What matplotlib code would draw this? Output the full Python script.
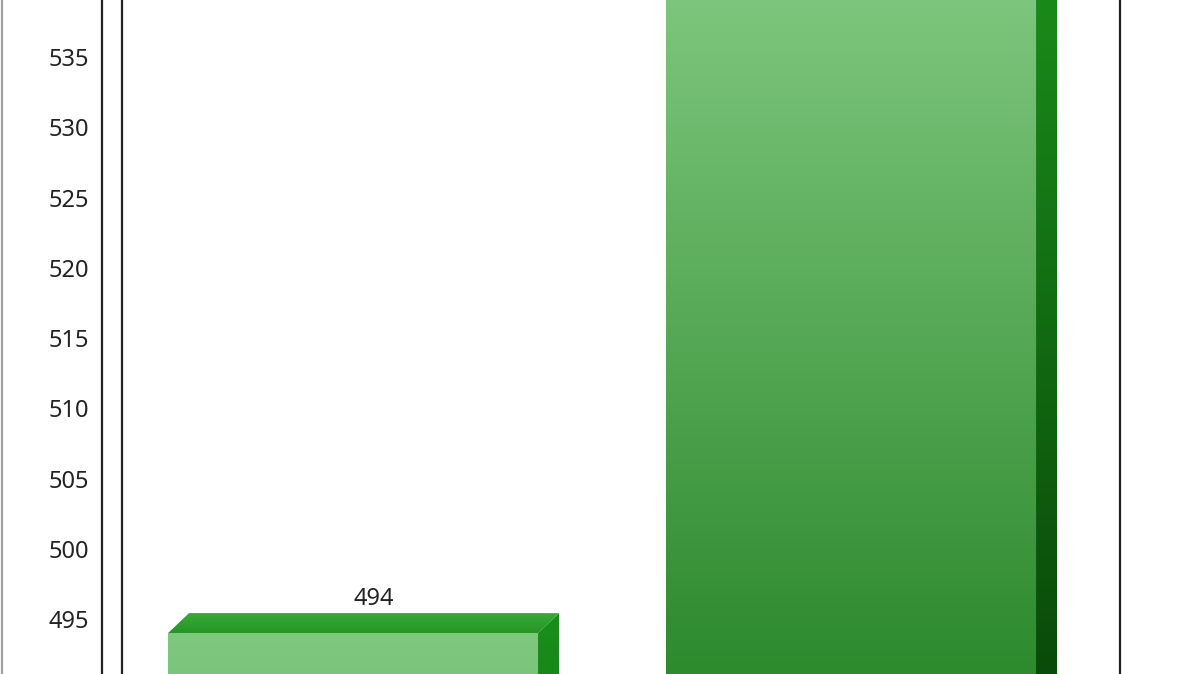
import matplotlib
matplotlib.use("Agg")
import matplotlib.pyplot as plt
import numpy as np
from matplotlib.colors import LinearSegmentedColormap
from matplotlib.patches import Polygon, Rectangle
from matplotlib.lines import Line2D

# data
categories = ["A", "B"]
values = [494, 541]
yticks = [495, 500, 505, 510, 515, 520, 525, 530, 535]

plt.rcParams['font.family'] = ['Noto Sans', 'DejaVu Sans']

fig = plt.figure(figsize=(12, 6.74), dpi=100)
ax = fig.add_axes([122 / 1200, 0, 998 / 1200, 1])

ymin, ymax = 491.09, 539.06
xmin, xmax = -0.4639, 1.540
width = 0.743
dx = 21 / 498
dy = 20 / 14.05
base = 470
span = 50

front_cm = LinearSegmentedColormap.from_list("front", ["#2d8a2d", "#80c880"])
side_cm = LinearSegmentedColormap.from_list("side", ["#0a4a0a", "#1a8e1a"])
top_cm = LinearSegmentedColormap.from_list("top", ["#259525", "#3aac3a"])
grad = np.linspace(0, 1, 256).reshape(-1, 1)

x = np.arange(len(values))
for xi, v in zip(x, values):
    x0, x1 = xi - width / 2, xi + width / 2
    # front face
    rect = Rectangle((x0, base), width, v - base, facecolor="none", edgecolor="none")
    ax.add_patch(rect)
    im = ax.imshow(grad, cmap=front_cm, origin="lower", aspect="auto",
                   extent=(x0, x1, v - span, v), zorder=2)
    im.set_clip_path(rect)
    ax.add_patch(Rectangle((x0, base), width, v - base - span, facecolor="#2d8a2d",
                           edgecolor="none", zorder=2))
    # side face
    side = Polygon([(x1, base), (x1 + dx, base + dy), (x1 + dx, v + dy), (x1, v)],
                   closed=True, facecolor="none", edgecolor="none")
    ax.add_patch(side)
    im = ax.imshow(grad, cmap=side_cm, origin="lower", aspect="auto",
                   extent=(x1, x1 + dx, v - span, v + dy), zorder=2)
    im.set_clip_path(side)
    # top face
    top = Polygon([(x0, v), (x0 + dx, v + dy), (x1 + dx, v + dy), (x1, v)],
                  closed=True, facecolor="none", edgecolor="none")
    ax.add_patch(top)
    im = ax.imshow(grad, cmap=top_cm, origin="lower", aspect="auto",
                   extent=(x0, x1 + dx, v, v + dy), zorder=2)
    im.set_clip_path(top)
    # value label (only the ones inside the visible range)
    if v + dy + 2 < ymax:
        ax.text(xi + dx, v + dy + 0.55, str(v), ha="center", va="baseline",
                fontsize=17, color="#222222", zorder=3)

ax.set_xlim(xmin, xmax)
ax.set_ylim(ymin, ymax)
ax.set_xticks([])
ax.set_yticks(yticks)
ax.tick_params(axis="y", length=0, pad=24, labelsize=17, labelcolor="#222222")
for s in ["top", "bottom"]:
    ax.spines[s].set_visible(False)
for s in ["left", "right"]:
    ax.spines[s].set_linewidth(1.6)
    ax.spines[s].set_color("#222222")

# outer axis line and border
fig.add_artist(Line2D([102 / 1200, 102 / 1200], [0, 1], color="#222222", linewidth=1.6))
fig.add_artist(Line2D([2 / 1200, 2 / 1200], [0, 1], color="#a0a0a0", linewidth=1.6))

fig.savefig("out.png", dpi=100)
